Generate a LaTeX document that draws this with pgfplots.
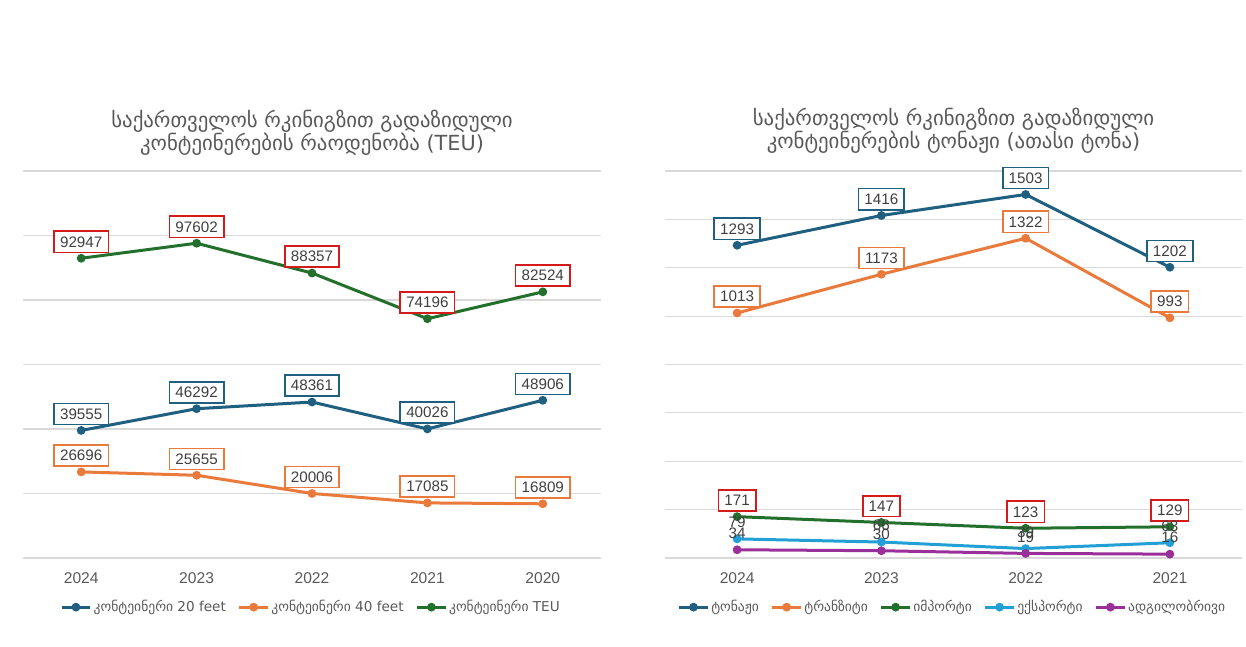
\documentclass[border=0pt]{standalone}
\usepackage{fontspec}
\setmainfont{Liberation Sans}
\newfontfamily\geo{DejaVu Sans}
\usepackage{pgfplots}
\pgfplotsset{compat=1.18}
\definecolor{cblue}{HTML}{1F5F80}
\definecolor{corange}{HTML}{E97A3B}
\definecolor{cgreen}{HTML}{22702B}
\definecolor{cred}{HTML}{D41A1A}
\definecolor{ccyan}{HTML}{22A0D5}
\definecolor{cpurple}{HTML}{9A2F9A}
\definecolor{ctext}{HTML}{404040}
\definecolor{ctitle}{HTML}{595959}
\definecolor{cgrid}{HTML}{D9D9D9}
\pgfplotsset{
  common/.style={
    scale only axis, height=193.5pt, width=288.5pt,
    axis line style={draw=none}, ymin=0, scaled y ticks=false,
    ymajorgrids, grid style={cgrid, line width=0.6pt},
    yticklabels={}, major tick length=0pt, tick style={draw=none},
    xticklabel style={font=\fontsize{7.8}{9}\selectfont, text=ctitle, anchor=north, yshift=-4pt},
    every axis plot/.append style={line width=1.5pt, mark=*, mark size=1.4pt},
    nodes near coords={\pgfmathprintnumber[fixed,precision=0,1000 sep={},assume math mode=true]{\pgfplotspointmeta}},
    every node near coord/.append style={font=\fontsize{7.6}{8.5}\selectfont, text=ctext, fill=white, line width=0.8pt, inner xsep=3pt, inner ysep=2.6pt, anchor=south, yshift=2.5pt},
    legend style={draw=none, fill=none, legend columns=-1, font=\geo\fontsize{6.8}{8}\selectfont, text=ctitle, at={(0.5,-0.127)}, anchor=center, /tikz/every even column/.append style={column sep=4pt}, /tikz/every odd column/.append style={column sep=-1pt}},
    legend image code/.code={\draw[mark repeat=2,mark phase=2] plot coordinates {(0cm,0cm)(0.25cm,0cm)(0.5cm,0cm)};},
    title style={font=\geo\fontsize{10.4}{11.5}\selectfont, text=ctitle, align=center, at={(0.5,1)}, anchor=center},
    clip=false,
  }
}
\begin{document}
\begin{tikzpicture}
\path[use as bounding box] (0pt,0pt) rectangle (623pt,-323.5pt);

\begin{axis}[common, at={(11.75pt,-279pt)}, anchor=south west,
  xmin=-0.5, xmax=4.5, ymax=120000, ytick={0,20000,40000,60000,80000,100000,120000},
  xtick={0,1,2,3,4}, xticklabels={2024,2023,2022,2021,2020},
  title style={yshift=13pt},
  title={საქართველოს რკინიგზით გადაზიდული\\კონტეინერების რაოდენობა (TEU)}]
\addplot[color=cblue, every node near coord/.append style={draw=cblue}] coordinates {(0,39555) (1,46292) (2,48361) (3,40026) (4,48906)};
\addlegendentry{კონტეინერი 20 feet}
\addplot[color=corange, every node near coord/.append style={draw=corange}] coordinates {(0,26696) (1,25655) (2,20006) (3,17085) (4,16809)};
\addlegendentry{კონტეინერი 40 feet}
\addplot[color=cgreen, every node near coord/.append style={draw=cred}] coordinates {(0,92947) (1,97602) (2,88357) (3,74196) (4,82524)};
\addlegendentry{კონტეინერი TEU}
\end{axis}

\begin{axis}[common, at={(332.5pt,-279pt)}, anchor=south west,
  xmin=-0.5, xmax=3.5, ymax=1600, ytick={0,200,400,600,800,1000,1200,1400,1600},
  xtick={0,1,2,3}, xticklabels={2024,2023,2022,2021},
  title style={yshift=14.25pt},
  title={საქართველოს რკინიგზით გადაზიდული\\კონტეინერების ტონაჟი (ათასი ტონა)}]
\addplot[color=cblue, every node near coord/.append style={draw=cblue}] coordinates {(0,1293) (1,1416) (2,1503) (3,1202)};
\addlegendentry{ტონაჟი}
\addplot[color=corange, every node near coord/.append style={draw=corange}] coordinates {(0,1013) (1,1173) (2,1322) (3,993)};
\addlegendentry{ტრანზიტი}
\addplot[color=cgreen, every node near coord/.append style={draw=cred}] coordinates {(0,171) (1,147) (2,123) (3,129)};
\addlegendentry{იმპორტი}
\addplot[color=ccyan, every node near coord/.append style={draw=none, fill=none}] coordinates {(0,79) (1,66) (2,39) (3,63)};
\addlegendentry{ექსპორტი}
\addplot[color=cpurple, every node near coord/.append style={draw=none, fill=none}] coordinates {(0,34) (1,30) (2,19) (3,16)};
\addlegendentry{ადგილობრივი}
\end{axis}
\end{tikzpicture}
\end{document}
